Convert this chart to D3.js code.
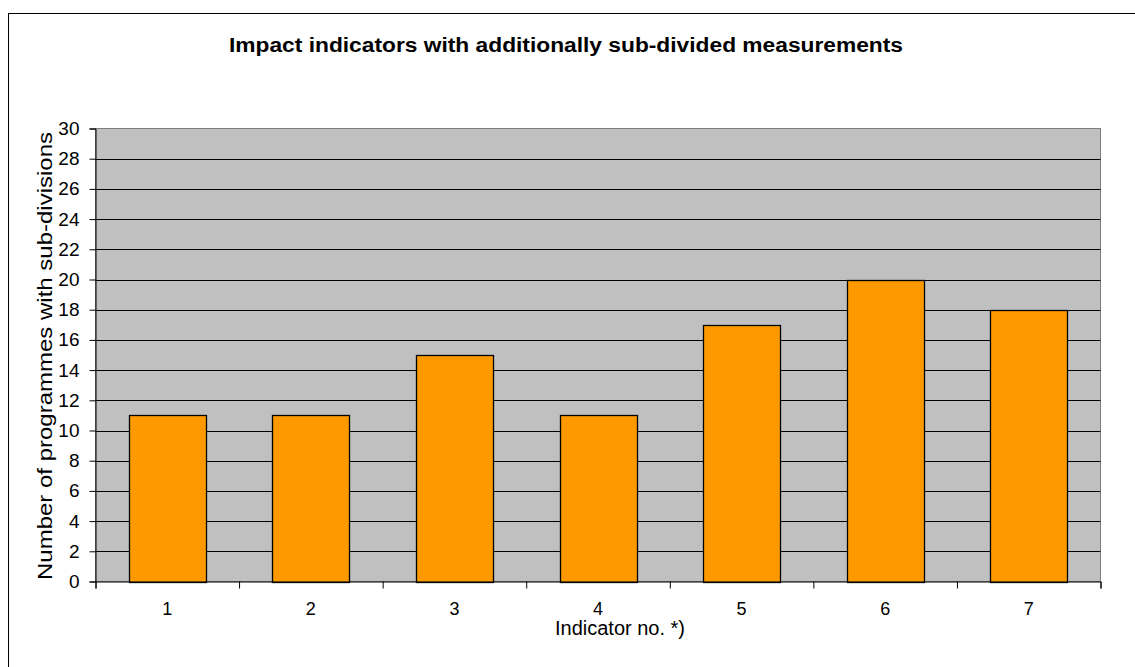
<!DOCTYPE html>
<html><head><meta charset="utf-8">
<script src="https://cdn.jsdelivr.net/npm/d3@7"></script>
<style>body{margin:0;background:#fff}svg{display:block}</style>
</head><body>
<svg id="c" width="1135" height="667"></svg>
<script>
const categories = ["1","2","3","4","5","6","7"];
const values = [11, 11, 15, 11, 17, 20, 18];
const yTicks = [0,2,4,6,8,10,12,14,16,18,20,22,24,26,28,30];
const title = "Impact indicators with additionally  sub-divided measurements";
const xTitle = "Indicator no. *)";
const yTitle = "Number of programmes with  sub-divisions";

const svg = d3.select("#c");
const L = 95.5, R = 1100.5, T = 128.5, B = 581.5;
const font = "'Liberation Sans', Arial, sans-serif";

svg.append("rect").attr("x",8.5).attr("y",13.5).attr("width",1140).attr("height",700)
  .attr("fill","#fff").attr("stroke","#000").attr("stroke-width",1);

const x = d3.scaleBand().domain(categories).range([L, R]).paddingInner(0.464).paddingOuter(0.232);
const y = d3.scaleLinear().domain([0,30]).range([B, T]);

svg.append("rect").attr("x",L).attr("y",T).attr("width",R-L).attr("height",B-T)
  .attr("fill","#C0C0C0").attr("stroke","#808080");

svg.append("g").selectAll("line").data(yTicks.filter(d=>d>0 && d<30)).join("line")
  .attr("x1",L).attr("x2",R).attr("y1",d=>Math.round(y(d))+0.5).attr("y2",d=>Math.round(y(d))+0.5)
  .attr("stroke","#000");

svg.append("g").selectAll("rect").data(values).join("rect")
  .attr("x",(d,i)=>Math.round(x(categories[i]))+0.5)
  .attr("y",d=>Math.round(y(d))+0.5)
  .attr("width",Math.round(x.bandwidth()))
  .attr("height",d=>Math.round(y(0))-Math.round(y(d)))
  .attr("fill","#FF9900").attr("stroke","#000").attr("stroke-width",1.3);

// y axis
const ya = svg.append("g").attr("transform",`translate(${L},0)`)
  .call(d3.axisLeft(y).tickValues(yTicks).tickSize(6).tickPadding(10).tickFormat(d3.format("d")));
ya.select(".domain").attr("stroke","#000");
ya.selectAll("line").attr("stroke","#000");
ya.selectAll("text").style("font-family",font).style("font-size","19px").attr("fill","#000");

// x axis
const xl = d3.scaleLinear().domain([0,7]).range([L,R]);
const xa = svg.append("g").attr("transform",`translate(0,${B})`)
  .call(d3.axisBottom(xl).ticks(7).tickSize(7).tickFormat(""));
xa.select(".domain").attr("stroke","#000");
xa.selectAll("line").attr("stroke","#000");
svg.append("g").selectAll("text").data(categories).join("text")
  .attr("x",d=>x(d)+x.bandwidth()/2).attr("y",615)
  .attr("text-anchor","middle").style("font-family",font).style("font-size","18px").text(d=>d);

svg.append("text").attr("x",620).attr("y",635).attr("text-anchor","middle")
  .style("font-family",font).style("font-size","20px").text(xTitle);

svg.append("text").attr("transform",`translate(52,356) rotate(-90)`)
  .attr("text-anchor","middle").style("font-family",font).style("font-size","21px")
  .attr("textLength",448).attr("lengthAdjust","spacingAndGlyphs").text(yTitle);

svg.append("text").attr("x",566).attr("y",52).attr("text-anchor","middle")
  .style("font-family",font).style("font-weight","bold").style("font-size","20px")
  .attr("textLength",674).attr("lengthAdjust","spacingAndGlyphs").text(title);
</script>
</body></html>
